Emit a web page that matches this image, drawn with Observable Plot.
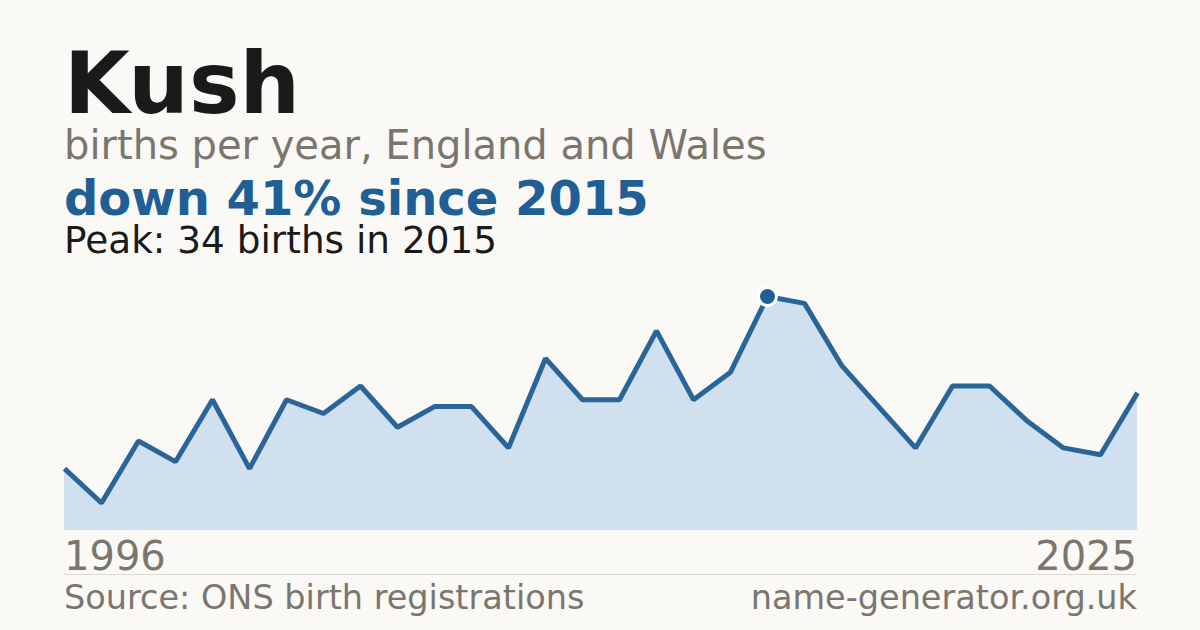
<!DOCTYPE html>
<html>
<head>
<meta charset="utf-8">
<script src="https://cdn.jsdelivr.net/npm/d3@7"></script>
<script src="https://cdn.jsdelivr.net/npm/@observablehq/plot@0.6"></script>
<style>
  html, body { margin: 0; padding: 0; }
  body { width: 1200px; height: 630px; background: #faf9f5; position: relative; overflow: hidden; font-family: "DejaVu Sans", sans-serif; }
  .t { position: absolute; white-space: nowrap; line-height: 0.9; }
  #chart { position: absolute; left: 0; top: 270px; }
  #chart svg { overflow: visible; }
</style>
</head>
<body>
<div class="t" id="title" style="left:64px; top:46px; font-size:85px; font-weight:bold; color:#1a1a1a;"></div>
<div class="t" id="subtitle" style="left:64px; top:127px; font-size:40px; color:#7a766e;"></div>
<div class="t" id="headline" style="left:64px; top:177px; font-size:48px; font-weight:bold; color:#1f5f96;"></div>
<div class="t" id="peak" style="left:64px; top:224px; font-size:37.4px; color:#1a1a1a;"></div>
<div id="chart"></div>
<div class="t" id="xfirst" style="left:64px; top:538px; font-size:40px; color:#7a766e;"></div>
<div class="t" id="xlast" style="right:63px; top:538px; font-size:40px; color:#7a766e;"></div>
<div style="position:absolute; left:64px; top:574px; width:1073px; height:1px; background:#dcd9d2;"></div>
<div class="t" id="source" style="left:64px; top:583px; font-size:33.5px; color:#7a766e;"></div>
<div class="t" id="site" style="right:63px; top:583px; font-size:33.5px; color:#7a766e;"></div>
<script>
const years = [1996,1997,1998,1999,2000,2001,2002,2003,2004,2005,2006,2007,2008,2009,2010,2011,2012,2013,2014,2015,2016,2017,2018,2019,2020,2021,2022,2023,2024,2025];
const births = [9,4,13,10,19,9,19,17,21,15,18,18,12,25,19,19,29,19,23,34,33,24,18,12,21,21,16,12,11,20];
const titleText = "Kush";
const subtitleText = "births per year, England and Wales";
const headlineText = "down 41% since 2015";
const peakText = "Peak: 34 births in 2015";
const sourceText = "Source: ONS birth registrations";
const siteText = "name-generator.org.uk";
const peakYear = 2015;

const data = years.map((y, i) => ({year: y, value: births[i]}));
const peakRow = data.filter(d => d.year === peakYear);

document.getElementById("title").textContent = titleText;
document.getElementById("subtitle").textContent = subtitleText;
document.getElementById("headline").textContent = headlineText;
document.getElementById("peak").textContent = peakText;
document.getElementById("source").textContent = sourceText;
document.getElementById("site").textContent = siteText;
document.getElementById("xfirst").textContent = String(years[0]);
document.getElementById("xlast").textContent = String(years[years.length - 1]);

const plot = Plot.plot({
  width: 1200,
  height: 260,
  marginLeft: 64,
  marginRight: 63,
  marginTop: 26,
  marginBottom: 0,
  style: {background: "transparent", overflow: "visible"},
  x: {domain: [years[0], years[years.length - 1]], axis: null},
  y: {domain: [0, 34], axis: null},
  marks: [
    Plot.areaY(data, {x: "year", y: "value", fill: "#d0e0ef"}),
    Plot.lineY(data, {x: "year", y: "value", stroke: "#2a659a", strokeWidth: 5, strokeLinejoin: "miter", strokeLinecap: "butt"}),
    Plot.dot(peakRow, {x: "year", y: "value", r: 9, fill: "#1f5f96", stroke: "#ffffff", strokeWidth: 3})
  ]
});
document.getElementById("chart").appendChild(plot);
</script>
</body>
</html>
